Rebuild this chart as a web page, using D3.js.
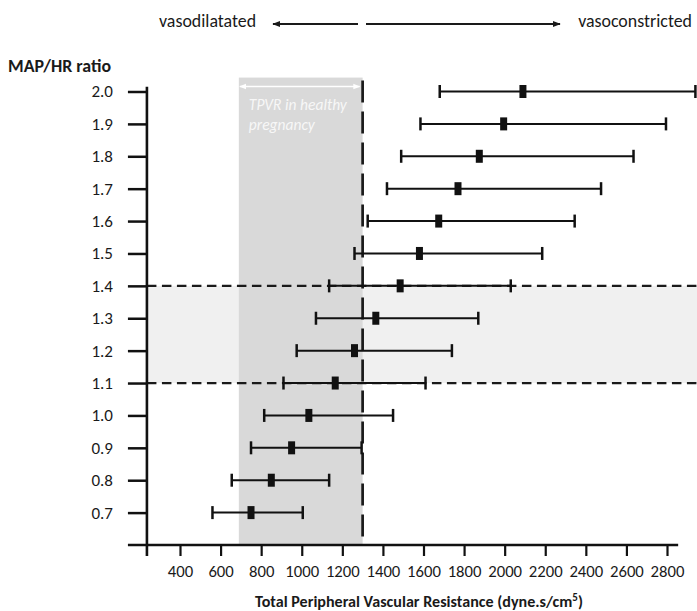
<!DOCTYPE html>
<html>
<head>
<meta charset="utf-8">
<script src="https://cdn.jsdelivr.net/npm/d3@7"></script>
<style>
  html, body { margin: 0; padding: 0; background: #fff; }
  svg { display: block; }
  text { font-family: Carlito, Lato, "Open Sans", sans-serif; fill: #1a1a1a; }
</style>
</head>
<body>
<svg id="chart" width="697" height="611"></svg>
<script>
// ---------- data ----------
const ratios   = [2.0, 1.9, 1.8, 1.7, 1.6, 1.5, 1.4, 1.3, 1.2, 1.1, 1.0, 0.9, 0.8, 0.7];
const tpvrMean = [2090, 1995, 1875, 1770, 1675, 1580, 1485, 1365, 1260, 1165, 1035, 950, 850, 750];
const tpvrLow  = [1680, 1585, 1490, 1420, 1325, 1260, 1135, 1070, 975, 910, 815, 750, 655, 560];
const tpvrHigh = [2940, 2795, 2635, 2475, 2345, 2185, 2030, 1870, 1740, 1610, 1450, 1295, 1135, 1005];
const xTickValues = [400, 600, 800, 1000, 1200, 1400, 1600, 1800, 2000, 2200, 2400, 2600, 2800];
const yTickValues = ratios;
const healthyRange = [690, 1300];   // TPVR in healthy pregnancy
const ratioBand = [1.1, 1.4];       // reference MAP/HR band
const xExtent = [237, 2855];
const yExtent = [0.6, 2.015];
const boxTop = 2.043;

// ---------- scales ----------
const svg = d3.select("#chart");
const x = d3.scaleLinear().domain([400, 2800]).range([180, 667]);
const y = d3.scaleLinear().domain([0.6, 2.0]).range([545, 91.5]);
const W = 697;

// reference band (light gray)
svg.append("rect")
  .attr("x", x(xExtent[0])).attr("width", W - x(xExtent[0]))
  .attr("y", y(ratioBand[1])).attr("height", y(ratioBand[0]) - y(ratioBand[1]))
  .attr("fill", "#f0f0f0");

// healthy pregnancy box
svg.append("rect")
  .attr("x", x(healthyRange[0])).attr("width", x(healthyRange[1]) - x(healthyRange[0]))
  .attr("y", y(boxTop)).attr("height", y(yExtent[0]) - y(boxTop))
  .attr("fill", "#d9d9d9");

// horizontal dashed lines
ratioBand.forEach(v => {
  svg.append("line")
    .attr("x1", x(xExtent[0])).attr("x2", W)
    .attr("y1", y(v)).attr("y2", y(v))
    .attr("stroke", "#1a1a1a").attr("stroke-width", 2.2)
    .attr("stroke-dasharray", "9.5,5.5");
});

// vertical dashed line at upper limit
svg.append("line")
  .attr("x1", x(healthyRange[1])).attr("x2", x(healthyRange[1]))
  .attr("y1", y(boxTop) + 3).attr("y2", y(yExtent[0]))
  .attr("stroke", "#1a1a1a").attr("stroke-width", 2.7)
  .attr("stroke-dasharray", "22,9");

// defs: arrowheads
const defs = svg.append("defs");
function marker(id, color, orient, size) {
  defs.append("marker").attr("id", id)
    .attr("viewBox", "0 0 10 10").attr("refX", 9).attr("refY", 5)
    .attr("markerWidth", size).attr("markerHeight", size)
    .attr("markerUnits", "userSpaceOnUse")
    .attr("orient", orient)
    .append("path").attr("d", "M0,1 L10,5 L0,9 Z").attr("fill", color);
}
marker("blk", "#1a1a1a", "auto", 8);
marker("wht", "#ffffff", "auto-start-reverse", 7);

// white double arrow inside box
svg.append("line")
  .attr("x1", x(healthyRange[0]) + 1).attr("x2", x(healthyRange[1]) - 3)
  .attr("y1", y(boxTop) + 9).attr("y2", y(boxTop) + 9)
  .attr("stroke", "#fff").attr("stroke-width", 1.6)
  .attr("marker-start", "url(#wht)").attr("marker-end", "url(#wht)");

svg.append("text")
  .attr("x", x(healthyRange[0]) + 10).attr("y", y(boxTop) + 32)
  .attr("font-size", 15.5).attr("font-style", "italic")
  .style("fill", "#f7f7f7").text("TPVR in healthy");
svg.append("text")
  .attr("x", x(healthyRange[0]) + 10).attr("y", y(boxTop) + 52)
  .attr("font-size", 15.5).attr("font-style", "italic")
  .style("fill", "#f7f7f7").text("pregnancy");

// ---------- error bars ----------
const rows = ratios.map((r, i) => ({ r, m: tpvrMean[i], lo: tpvrLow[i], hi: tpvrHigh[i] }));
const g = svg.append("g");
g.selectAll(".whisk").data(rows).enter().append("line")
  .attr("x1", d => x(d.lo)).attr("x2", d => x(d.hi))
  .attr("y1", d => y(d.r)).attr("y2", d => y(d.r))
  .attr("stroke", "#111").attr("stroke-width", 2);
["lo", "hi"].forEach(k => {
  g.selectAll(".cap" + k).data(rows).enter().append("line")
    .attr("x1", d => x(d[k])).attr("x2", d => x(d[k]))
    .attr("y1", d => y(d.r) - 6.5).attr("y2", d => y(d.r) + 6.5)
    .attr("stroke", "#111").attr("stroke-width", 2.5);
});
g.selectAll(".mean").data(rows).enter().append("rect")
  .attr("x", d => x(d.m) - 3.5).attr("width", 7)
  .attr("y", d => y(d.r) - 6.5).attr("height", 13)
  .attr("fill", "#111");

// ---------- axes ----------
const axisColor = "#111";
const tickFont = 17;
// y axis
const yAxis = svg.append("g")
  .attr("transform", `translate(${x(xExtent[0])},0)`)
  .call(d3.axisLeft(y).tickValues(yTickValues).tickFormat(d3.format(".1f")).tickSize(19).tickPadding(15));
yAxis.select(".domain").remove();
yAxis.selectAll(".tick line").attr("stroke", axisColor).attr("stroke-width", 2.5);
yAxis.selectAll(".tick text").attr("font-size", tickFont).attr("font-family", "Carlito, Lato, sans-serif").style("fill", "#1a1a1a");

// x axis
const xAxis = svg.append("g")
  .attr("transform", `translate(0,${y(yExtent[0])})`)
  .call(d3.axisBottom(x).tickValues(xTickValues).tickFormat(d3.format("d")).tickSize(11).tickPadding(9));
xAxis.select(".domain").remove();
xAxis.selectAll(".tick line").attr("stroke", axisColor).attr("stroke-width", 2.2);
xAxis.selectAll(".tick text").attr("font-size", 16.7).attr("font-family", "Carlito, Lato, sans-serif").style("fill", "#1a1a1a");

// axis lines
svg.append("line")
  .attr("x1", x(xExtent[0])).attr("x2", x(xExtent[0]))
  .attr("y1", y(yExtent[1])).attr("y2", y(yExtent[0]) + 11)
  .attr("stroke", axisColor).attr("stroke-width", 2.6);
svg.append("line")
  .attr("x1", x(xExtent[0]) - 19).attr("x2", x(xExtent[1]))
  .attr("y1", y(yExtent[0])).attr("y2", y(yExtent[0]))
  .attr("stroke", axisColor).attr("stroke-width", 2.6);

// axis titles
svg.append("text").attr("x", 8).attr("y", 72)
  .attr("font-size", 17.9).attr("font-weight", "bold").text("MAP/HR ratio");

const xt = svg.append("text").attr("x", 419).attr("y", 607)
  .attr("text-anchor", "middle").attr("font-size", 16.1).attr("font-weight", "bold");
xt.append("tspan").text("Total Peripheral Vascular Resistance (dyne.s/cm");
xt.append("tspan").attr("font-size", 11).attr("dy", -6).text("5");
xt.append("tspan").attr("dy", 6).text(")");

// top labels and arrows
svg.append("text").attr("x", 159).attr("y", 27).attr("font-size", 17.9).text("vasodilatated");
svg.append("text").attr("x", 692).attr("y", 27).attr("text-anchor", "end").attr("font-size", 17.9).text("vasoconstricted");
svg.append("line")
  .attr("x1", 358).attr("x2", 273).attr("y1", 24).attr("y2", 24)
  .attr("stroke", "#1a1a1a").attr("stroke-width", 2).attr("marker-end", "url(#blk)");
svg.append("line")
  .attr("x1", 366).attr("x2", 560).attr("y1", 24).attr("y2", 24)
  .attr("stroke", "#1a1a1a").attr("stroke-width", 2).attr("marker-end", "url(#blk)");
</script>
</body>
</html>
